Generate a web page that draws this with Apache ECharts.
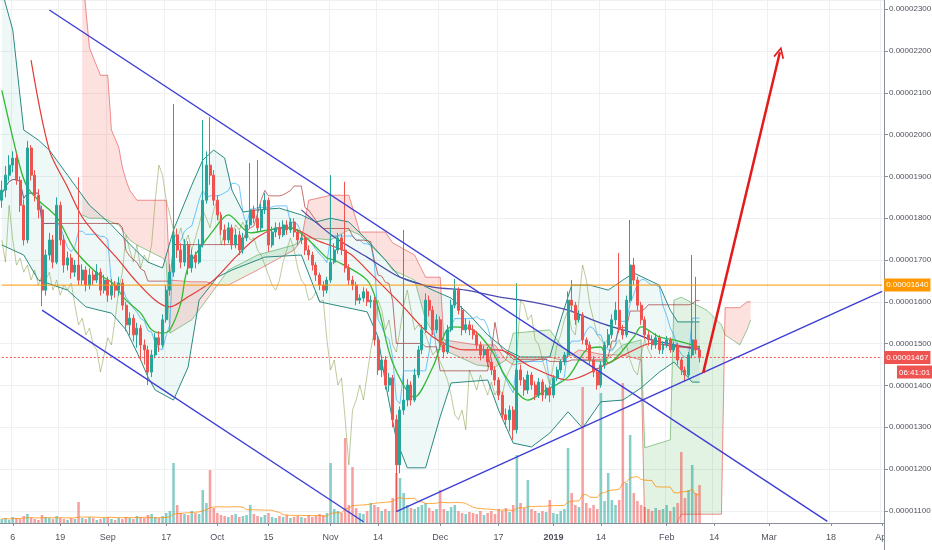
<!DOCTYPE html>
<html><head><meta charset="utf-8">
<script src="https://cdn.jsdelivr.net/npm/echarts@6/dist/echarts.min.js"></script>
<style>html,body{margin:0;padding:0;background:#fff}#c{width:932px;height:550px}</style>
</head><body><div id="c"></div>
<script>
// ---------- DATA (prices in satoshi, 1 = 0.00000001) ----------
const firstDay = [2018, 7, 3];     // 3 Aug 2018
const dayCount = 242;              // through 1 Apr 2019
const tickDates = ['2018-08-06','2018-08-19','2018-09-01','2018-09-17','2018-10-01','2018-10-15','2018-11-01','2018-11-14','2018-12-01','2018-12-17','2019-01-01','2019-01-14','2019-02-01','2019-02-14','2019-03-01','2019-03-18','2019-04-01'];
const tickTexts = ['6','19','Sep','17','Oct','15','Nov','14','Dec','17','2019','14','Feb','14','Mar','18','Apr'];

// [open, close, low, high]
const ohlc = [
[1843,1867,1825,1890],[1867,1903,1850,1925],[1903,1927,1890,1951],[1927,1944,1910,1960],[1944,1891,1880,1955],
[1891,1831,1815,1900],[1831,1748,1735,1845],[1748,1968,1740,1985],[1968,1903,1890,1975],[1903,1855,1840,1915],
[1855,1820,1800,1870],[1820,1628,1590,1830],[1628,1712,1615,1725],[1712,1748,1700,1765],[1748,1695,1680,1760],
[1695,1831,1690,1850],[1831,1748,1735,1840],[1748,1688,1670,1760],[1688,1705,1675,1720],[1705,1671,1655,1715],
[1671,1688,1660,1700],[1688,1652,1640,1898],[1652,1676,1640,1690],[1676,1640,1625,1685],[1640,1664,1630,1680],
[1664,1652,1640,1675],[1652,1671,1645,1690],[1671,1628,1615,1680],[1628,1652,1620,1665],[1652,1616,1600,1660],
[1616,1640,1605,1655],[1640,1628,1610,1650],[1628,1645,1615,1660],[1645,1592,1580,1655],[1592,1545,1530,1600],
[1545,1561,1520,1575],[1561,1521,1505,1570],[1521,1537,1490,1550],[1537,1497,1460,1545],[1497,1485,1450,1510],
[1485,1432,1401,1495],[1432,1473,1420,1485],[1473,1514,1465,1525],[1514,1497,1480,1530],[1497,1557,1490,1570],
[1557,1628,1550,1640],[1628,1671,1615,1690],[1671,1760,1660,2073],[1760,1724,1705,1775],[1724,1695,1680,1740],
[1695,1736,1685,1750],[1736,1681,1665,1745],[1681,1712,1670,1725],[1712,1695,1680,1720],[1695,1736,1690,1750],
[1736,1843,1730,2035],[1843,1927,1835,1960],[1927,1903,1880,2042],[1903,1843,1830,1915],[1843,1808,1795,1855],
[1808,1772,1760,1815],[1772,1748,1735,1785],[1748,1777,1740,1790],[1777,1736,1725,1785],[1736,1760,1728,1775],
[1760,1724,1712,1770],[1724,1753,1715,1765],[1753,1784,1745,1795],[1784,1820,1775,1932],[1820,1800,1788,1830],
[1800,1777,1765,1939],[1777,1820,1770,1835],[1820,1843,1810,1860],[1843,1736,1720,1850],[1736,1767,1730,1780],
[1767,1777,1755,1790],[1777,1760,1750,1790],[1760,1784,1755,1795],[1784,1772,1760,1795],[1772,1791,1765,1800],
[1791,1767,1755,1800],[1767,1748,1735,1775],[1748,1753,1738,1765],[1753,1724,1712,1760],[1724,1712,1700,1735],
[1712,1688,1675,1720],[1688,1664,1650,1695],[1664,1640,1628,1670],[1640,1628,1612,1650],[1628,1652,1620,1660],
[1652,1695,1645,1903],[1695,1724,1690,1740],[1724,1753,1715,1765],[1753,1724,1712,1762],[1724,1681,1670,1887],
[1681,1652,1640,1690],[1652,1640,1628,1662],[1640,1604,1592,1648],[1604,1609,1595,1618],[1609,1624,1600,1635],
[1624,1600,1590,1632],[1600,1604,1585,1615],[1604,1509,1495,1612],[1509,1437,1425,1520],[1437,1461,1420,1470],
[1461,1401,1390,1470],[1401,1418,1385,1430],[1418,1318,1300,1425],[1318,1210,1098,1330],[1210,1341,1190,1350],
[1341,1365,1330,1772],[1365,1401,1350,1415],[1401,1365,1352,1410],[1365,1425,1360,1440],[1425,1485,1418,1495],
[1485,1533,1475,1545],[1533,1604,1525,1620],[1604,1580,1565,1615],[1580,1533,1520,1590],[1533,1557,1525,1570],
[1557,1497,1485,1565],[1497,1480,1465,1505],[1480,1533,1475,1545],[1533,1592,1528,1605],[1592,1628,1585,1655],
[1628,1580,1570,1635],[1580,1533,1520,1590],[1533,1545,1525,1560],[1545,1533,1520,1555],[1533,1521,1510,1545],
[1521,1497,1485,1530],[1497,1473,1460,1505],[1473,1485,1465,1495],[1485,1456,1445,1492],[1456,1437,1425,1465],
[1437,1413,1400,1445],[1413,1377,1365,1420],[1377,1330,1318,1385],[1330,1318,1300,1345],[1318,1341,1290,1352],
[1341,1294,1270,1350],[1294,1437,1285,1645],[1437,1413,1400,1450],[1413,1389,1375,1420],[1389,1425,1380,1435],
[1425,1401,1390,1432],[1401,1377,1365,1410],[1377,1408,1370,1418],[1408,1377,1362,1415],[1377,1394,1368,1402],
[1394,1377,1360,1400],[1377,1418,1370,1425],[1418,1437,1410,1445],[1437,1456,1430,1462],[1456,1473,1448,1480],
[1473,1604,1468,1625],[1604,1592,1575,1652],[1592,1557,1545,1600],[1557,1569,1550,1580],[1569,1509,1498,1575],
[1509,1497,1485,1515],[1497,1461,1450,1505],[1461,1432,1420,1470],[1432,1401,1390,1440],[1401,1449,1395,1458],
[1449,1497,1440,1505],[1497,1521,1490,1535],[1521,1557,1512,1570],[1557,1580,1545,1600],[1580,1533,1525,1717],
[1533,1521,1510,1545],[1521,1604,1515,1615],[1604,1688,1598,1796],[1688,1652,1640,1705],[1652,1592,1580,1660],
[1592,1557,1545,1600],[1557,1521,1510,1565],[1521,1509,1495,1530],[1509,1497,1485,1520],[1497,1514,1488,1525],
[1514,1485,1475,1520],[1485,1497,1475,1505],[1497,1509,1490,1518],[1509,1485,1478,1515],[1485,1497,1480,1505],
[1497,1461,1450,1502],[1461,1437,1425,1468],[1437,1425,1410,1445],[1425,1473,1420,1480],[1473,1509,1465,1712],
[1509,1485,1475,1660],[1485,1467,1455,1495]
];

const volumes = [
4,5,3,6,5,4,7,9,5,4,3,8,6,5,4,7,5,4,3,5,
4,21,5,4,6,5,3,4,5,6,4,3,5,4,6,5,4,7,6,5,
8,9,6,5,7,10,12,60,18,10,9,8,12,10,9,33,20,53,15,10,
8,7,6,8,9,6,7,8,18,9,7,6,8,10,6,5,7,6,8,5,
6,7,6,5,8,6,7,9,8,10,60,14,12,10,85,18,56,15,10,9,
12,20,18,16,12,14,12,25,50,45,30,18,15,14,16,18,20,15,12,14,
33,14,12,16,18,12,10,9,11,10,9,12,8,10,12,9,14,12,15,11,
18,68,20,15,43,14,12,10,12,11,23,10,9,12,14,75,30,18,16,136,
20,15,18,14,130,22,50,23,18,23,140,40,88,30,22,18,16,14,12,15,
13,14,18,12,16,20,71,25,33,58,30,38
];

// Bollinger bands: [day index, price]
const bbUpper = [[0,2345],[3,2250],[6,2011],[10,1987],[13,1963],[18,1903],[24,1831],[30,1784],[36,1729],[40,1695],[44,1681],[47,1772],[52,1879],[55,1939],[58,1963],[61,1944],[63,1867],[66,1815],[70,1820],[76,1824],[82,1808],[86,1791],[90,1800],[95,1791],[100,1748],[105,1700],[109,1659],[114,1645],[118,1628],[123,1609],[128,1569],[133,1521],[138,1485],[142,1468],[150,1468],[153,1557],[156,1640],[161,1640],[166,1628],[170,1652],[173,1669],[180,1640],[183,1580],[185,1552],[191,1552]];
const bbLower = [[0,1736],[3,1724],[6,1712],[10,1652],[18,1628],[23,1588],[30,1573],[34,1533],[38,1461],[40,1420],[42,1389],[47,1365],[51,1444],[54,1604],[59,1659],[63,1676],[72,1707],[82,1712],[87,1600],[100,1576],[103,1516],[105,1406],[108,1270],[111,1203],[116,1203],[120,1325],[123,1406],[133,1413],[136,1341],[140,1262],[145,1253],[150,1286],[155,1337],[159,1298],[164,1361],[170,1365],[175,1394],[180,1432],[184,1456],[189,1408],[191,1408]];

// Moving averages
const maGreen = [[0,2106],[5,1922],[7,1874],[10,1843],[15,1803],[20,1724],[26,1669],[30,1647],[34,1604],[38,1573],[41,1533],[44,1525],[46,1533],[49,1597],[51,1683],[58,1772],[62,1808],[68,1765],[73,1772],[79,1777],[84,1748],[89,1705],[91,1700],[100,1652],[103,1588],[107,1454],[113,1372],[118,1444],[123,1540],[129,1533],[134,1485],[138,1420],[144,1365],[149,1389],[155,1420],[160,1485],[164,1492],[166,1454],[173,1516],[175,1540],[180,1516],[184,1509],[191,1492]];
const maRed = [[8,2178],[13,1963],[18,1874],[22,1803],[27,1748],[32,1700],[36,1657],[42,1604],[46,1588],[51,1612],[58,1652],[64,1707],[70,1755],[77,1779],[81,1772],[86,1748],[95,1717],[100,1676],[109,1597],[118,1516],[127,1485],[136,1485],[145,1444],[155,1413],[164,1444],[173,1485],[178,1501],[186,1492],[191,1492]];
const maNavy = [[82,1820],[91,1755],[100,1707],[109,1659],[118,1635],[127,1628],[136,1612],[145,1600],[155,1580],[164,1549],[173,1525],[178,1509],[187,1492],[191,1487]];

// Ichimoku cloud edges: [day index, price]
const spanA = [[22,1808],[24,1800],[27,1800],[29,1796],[30,1791],[32,1784],[33,1772],[34,1760],[35,1748],[37,1736],[44,1705],[45,1695],[46,1525],[52,1557],[56,1604],[59,1640],[62,1676],[70,1712],[80,1736],[82,1748],[84,1753],[90,1748],[95,1772],[98,1760],[105,1700],[107,1676],[113,1652],[116,1557],[120,1497],[121,1485],[130,1449],[135,1444],[138,1461],[140,1525],[150,1533],[153,1497],[156,1473],[158,1461],[165,1456],[170,1497],[175,1509],[176,1251],[183,1270],[184,1604],[186,1611],[193,1580],[197,1545],[198,1521],[202,1497],[204,1533],[205,1557]];
const spanB = [[22,2393],[24,2207],[27,2142],[29,2142],[30,2011],[32,1970],[33,1922],[34,1891],[35,1867],[37,1843],[44,1843],[45,1843],[46,1652],[52,1648],[56,1648],[59,1640],[62,1640],[70,1676],[80,1724],[82,1748],[84,1843],[90,1855],[95,1855],[98,1767],[105,1767],[107,1741],[113,1712],[116,1659],[120,1659],[121,1509],[130,1497],[135,1497],[138,1461],[140,1449],[150,1468],[153,1461],[156,1473],[158,1485],[165,1473],[170,1473],[175,1461],[176,1055],[183,1055],[184,1055],[186,1092],[193,1092],[197,1092],[198,1586],[202,1586],[204,1600],[205,1600]];

// Drawn annotations: [day index, price]
const channelUpper = [[13,2298],[226,1075]];
const channelLower = [[11,1580],[99,1074]];
const risingLine = [[108,1098],[241,1625]];
const targetArrow = [[192,1430],[213,2197]];
const resistanceLevel = 1640;
const lastPrice = 1467;
const countdown = '06:41:01';

// ---------- BUILD ----------
const categories = [];
for (let i = 0; i < dayCount; i++) {
  const d = new Date(Date.UTC(firstDay[0], firstDay[1], firstDay[2] + i));
  categories.push(d.toISOString().slice(0, 10));
}
const tickMap = {};
tickDates.forEach((d, k) => tickMap[d] = tickTexts[k]);
const isTick = (idx, val) => tickMap[val] !== undefined;

const closes = ohlc.map(r => r[1]);
function midRange(n) {
  return ohlc.map((r, i) => {
    let hi = -Infinity, lo = Infinity;
    for (let k = Math.max(0, i - n + 1); k <= i; k++) { hi = Math.max(hi, ohlc[k][3]); lo = Math.min(lo, ohlc[k][2]); }
    return +((hi + lo) / 2).toFixed(1);
  });
}
const tenkan = midRange(9);
const kijun = midRange(26);
const chikou = closes.map((c, i) => (i + 13 < closes.length ? closes[i + 13] : null));
const volSma = volumes.map((v, i) => {
  const s = Math.max(0, i - 19); let t = 0;
  for (let k = s; k <= i; k++) t += volumes[k];
  return +(t / (i - s + 1)).toFixed(2);
});
const volData = volumes.map((v, i) => ({
  value: v,
  itemStyle: { color: ohlc[i][1] >= ohlc[i][0] ? 'rgba(38,166,154,0.55)' : 'rgba(239,83,80,0.55)' }
}));

const FONT = "'Liberation Sans',Arial,sans-serif";
const fmtPrice = v => (v / 1e8).toFixed(8);

function renderBand(params, api) {
  const pts = bbUpper.map(p => api.coord(p)).concat(bbLower.slice().reverse().map(p => api.coord(p)));
  return { type: 'polygon', shape: { points: pts }, style: { fill: 'rgba(0,150,136,0.07)' } };
}
function renderCloud(params, api) {
  const children = [];
  const green = 'rgba(76,175,80,0.16)', red = 'rgba(244,67,54,0.16)';
  const col = d => (d >= 0 ? green : red);
  for (let k = 0; k < spanA.length - 1; k++) {
    const a0 = api.coord(spanA[k]), a1 = api.coord(spanA[k + 1]);
    const b0 = api.coord(spanB[k]), b1 = api.coord(spanB[k + 1]);
    const d0 = spanA[k][1] - spanB[k][1], d1 = spanA[k + 1][1] - spanB[k + 1][1];
    if (d0 * d1 >= 0) {
      children.push({ type: 'polygon', shape: { points: [a0, a1, b1, b0] }, style: { fill: col(d0 + d1) } });
    } else {
      const t = d0 / (d0 - d1);
      const m = [a0[0] + (a1[0] - a0[0]) * t, a0[1] + (a1[1] - a0[1]) * t];
      children.push({ type: 'polygon', shape: { points: [a0, m, b0] }, style: { fill: col(d0) } });
      children.push({ type: 'polygon', shape: { points: [m, a1, b1] }, style: { fill: col(d1) } });
    }
  }
  return { type: 'group', children };
}

const lineS = (name, data, color, width, extra) => Object.assign({
  name, type: 'line', data, showSymbol: false, symbol: 'none', silent: true,
  lineStyle: { color, width }, z: 2, connectNulls: false
}, extra || {});

// horizontal level across the whole time axis, with its price tag at the right
const levelLine = (name, value, color, type) => ({
  name, type: 'line', silent: true, z: 4, showSymbol: false, symbol: 'none',
  data: [[0, value], [dayCount - 1, value]],
  lineStyle: { color, width: 1, type },
  itemStyle: { color },
  endLabel: { show: true, distance: 2, formatter: () => fmtPrice(value), color: '#ffffff',
    backgroundColor: color, padding: [3, 2, 2, 2], fontSize: 8, fontFamily: FONT }
});

const chart = echarts.init(document.getElementById('c'));
chart.setOption({
  animation: false,
  backgroundColor: '#ffffff',
  grid: { left: 0, right: 48, top: 0, bottom: 27, containLabel: false, outerBoundsMode: 'none' },
  xAxis: {
    type: 'category', data: categories, boundaryGap: true,
    axisLine: { lineStyle: { color: '#8a8e99' } },
    axisTick: { show: true, interval: isTick, alignWithLabel: true, length: 3, lineStyle: { color: '#8a8e99' } },
    axisLabel: {
      interval: isTick, margin: 10, color: '#50535e', fontSize: 9, fontFamily: FONT, hideOverlap: false,
      formatter: v => (tickMap[v] === '2019' ? '{b|2019}' : tickMap[v]),
      rich: { b: { fontWeight: 'bold', fontSize: 9, fontFamily: FONT, color: '#50535e' } }
    },
    splitLine: { show: true, interval: isTick, lineStyle: { color: '#eef0f4', width: 1 } }
  },
  yAxis: [{
    type: 'value', position: 'right', min: 1071, max: 2322, splitNumber: 12, minInterval: 100, maxInterval: 100,
    axisLine: { show: true, lineStyle: { color: '#8a8e99' } },
    axisTick: { show: true, length: 4, lineStyle: { color: '#8a8e99' } },
    axisLabel: { formatter: fmtPrice, color: '#50535e', fontSize: 8, fontFamily: FONT, margin: 5, showMinLabel: false, showMaxLabel: false },
    splitLine: { show: true, lineStyle: { color: '#eef0f4', width: 1 } }
  }, {
    type: 'value', min: 0, max: 523, show: false, splitLine: { show: false }
  }],
  series: [
    { type: 'custom', renderItem: renderCloud, data: [[0, 1500]], encode: { x: 0, y: 1 }, clip: true, silent: true, z: 1 },
    { type: 'custom', renderItem: renderBand, data: [[0, 1500]], encode: { x: 0, y: 1 }, clip: true, silent: true, z: 1 },
    lineS('Lead 1', spanA, 'rgba(67,160,71,0.55)', 1),
    lineS('Lead 2', spanB, 'rgba(229,57,53,0.55)', 1),
    lineS('Lagging', chikou, 'rgba(110,140,40,0.45)', 1),
    lineS('Conversion', tenkan, 'rgba(4,150,255,0.55)', 1),
    lineS('Base', kijun, 'rgba(153,21,21,0.6)', 1),
    lineS('BB Upper', bbUpper, '#2b8a80', 1),
    lineS('BB Lower', bbLower, '#2b8a80', 1),
    lineS('MA Long', maNavy, '#4b4bab', 1.3, { smooth: 0.3 }),
    lineS('MA Mid', maRed, '#e53935', 1.2, { smooth: 0.3 }),
    lineS('MA Fast', maGreen, '#33b833', 1.3, { smooth: 0.3 }),
    { name: 'Volume', type: 'bar', yAxisIndex: 1, data: volData, barWidth: '70%', silent: true, z: 2 },
    lineS('Volume MA', volSma, 'rgba(255,140,0,0.75)', 1, { yAxisIndex: 1 }),
    {
      name: 'Price', type: 'candlestick', data: ohlc, barWidth: '68%', z: 3, silent: true,
      itemStyle: { color: '#26a69a', color0: '#ef5350', borderColor: '#26a69a', borderColor0: '#ef5350', borderWidth: 1 }
    },
    levelLine('Resistance', resistanceLevel, '#ff9800', 'solid'),
    levelLine('Last', lastPrice, '#ef5350', [2, 2]),
    lineS('Channel upper', channelUpper, '#3d3dd6', 1.4, { z: 4 }),
    lineS('Channel lower', channelLower, '#3d3dd6', 1.4, { z: 4 }),
    lineS('Rising support', risingLine, '#3d3dd6', 1.4, { z: 4 }),
    {
      name: 'Target', type: 'line', data: [], z: 5, silent: true, color: '#e31b1b',
      markLine: {
        silent: true, animation: false,
        symbol: ['none', 'path://M0,10 L5,0 L10,10 L8.6,10.8 L5,3.2 L1.4,10.8 Z'], symbolSize: [11, 12],
        itemStyle: { color: '#e31b1b' },
        lineStyle: { color: '#e31b1b', width: 2.5, type: 'solid' }, label: { show: false },
        data: [[{ coord: targetArrow[0] }, { coord: targetArrow[1] }]]
      }
    }
  ]
});

const yLast = chart.convertToPixel({ yAxisIndex: 0 }, lastPrice);
const xRight = chart.convertToPixel({ xAxisIndex: 0 }, categories[dayCount - 1]) + 1.8;
chart.setOption({
  graphic: [
    { type: 'rect', left: xRight + 1, top: 524, shape: { width: 60, height: 26 }, style: { fill: '#fff' }, z: 100 },
    { type: 'line', shape: { x1: xRight + 0.5, y1: 523, x2: xRight + 0.5, y2: 550 }, style: { stroke: '#8a8e99', lineWidth: 1 }, z: 101 },
    { type: 'text', x: xRight + 13, y: yLast + 8, z: 102,
      style: { text: countdown, fill: '#fff', backgroundColor: '#ef5350', padding: [3, 2, 2, 2], fontSize: 8, fontFamily: FONT } }
  ]
});
</script></body></html>
